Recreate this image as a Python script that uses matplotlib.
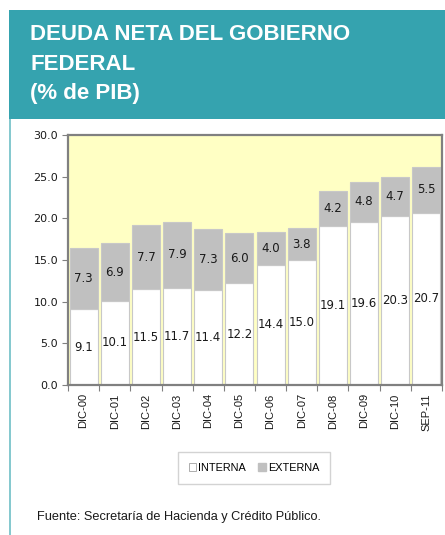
import matplotlib
matplotlib.use("Agg")
import matplotlib.pyplot as plt
import numpy as np
from matplotlib.patches import Rectangle, Patch
from matplotlib import font_manager

TEAL = "#35A3AF"
LINE_TEAL = "#86C9CF"
YELLOW = "#FFFFC4"
GRAY_BAR = "#C0C0C0"
SPINE = "#808080"
TEXT = "#1A1A1A"

names = {f.name for f in font_manager.fontManager.ttflist}
NARROW = "Liberation Sans Narrow" if "Liberation Sans Narrow" in names else "Liberation Sans"

periods = ["DIC-00", "DIC-01", "DIC-02", "DIC-03", "DIC-04", "DIC-05",
           "DIC-06", "DIC-07", "DIC-08", "DIC-09", "DIC-10", "SEP-11"]
interna = [9.1, 10.1, 11.5, 11.7, 11.4, 12.2, 14.4, 15.0, 19.1, 19.6, 20.3, 20.7]
externa = [7.3, 6.9, 7.7, 7.9, 7.3, 6.0, 4.0, 3.8, 4.2, 4.8, 4.7, 5.5]

W, H = 445, 535
fig = plt.figure(figsize=(W / 100, H / 100), dpi=100)

# header band and left rule
fig.patches.append(Rectangle((9 / W, 1 - 119 / H), 1 - 9 / W, 109 / H,
                             transform=fig.transFigure, facecolor=TEAL, edgecolor="none"))
fig.patches.append(Rectangle((9 / W, 0), 2 / W, 1 - 119 / H,
                             transform=fig.transFigure, facecolor=LINE_TEAL, edgecolor="none"))
for text, y in [("DEUDA NETA DEL GOBIERNO", 34), ("FEDERAL", 64), ("(% de PIB)", 94)]:
    fig.text(30 / W, 1 - y / H, text, color="white", fontsize=16, fontweight="bold",
             family=NARROW, va="center", ha="left")

ax = fig.add_axes([68 / W, 150 / H, 374 / W, 250 / H])
ax.set_facecolor(YELLOW)
x = np.arange(len(periods))
ax.bar(x, interna, width=0.9, color="white", edgecolor="#C8C8C8", linewidth=0.8, zorder=2)
ax.bar(x, externa, width=0.9, bottom=interna, color=GRAY_BAR, edgecolor="#C8C8C8",
       linewidth=0.8, zorder=2)

for xi, a, b in zip(x, interna, externa):
    ax.text(xi, a / 2, f"{a:.1f}", ha="center", va="center", fontsize=8.5, color=TEXT, zorder=3)
    ax.text(xi, a + b / 2, f"{b:.1f}", ha="center", va="center", fontsize=8.5,
            color=TEXT, zorder=3)

ax.set_xlim(-0.5, len(periods) - 0.5)
ax.set_ylim(0, 30)
ax.set_yticks(np.arange(0, 30.1, 5))
ax.set_yticklabels([f"{v:.1f}" for v in np.arange(0, 30.1, 5)], fontsize=8, color=TEXT)
ax.set_xticks(np.arange(-0.5, len(periods), 1))
ax.set_xticklabels([])
ax.set_xticks(x, minor=True)
ax.set_xticklabels(periods, minor=True, rotation=90, fontsize=8, family=NARROW, color=TEXT)
ax.tick_params(axis="x", which="minor", length=0, pad=6)
ax.tick_params(axis="x", which="major", length=4, color=SPINE, direction="out")
ax.tick_params(axis="y", length=4, color=SPINE, direction="out", pad=3)
for spine in ax.spines.values():
    spine.set_color(SPINE)
    spine.set_linewidth(1.6)

handles = [Patch(facecolor="white", edgecolor="#A0A0A0", linewidth=0.6, label="INTERNA"),
           Patch(facecolor=GRAY_BAR, edgecolor=GRAY_BAR, label="EXTERNA")]
leg = fig.legend(handles=handles, loc="center", bbox_to_anchor=(254 / W, 1 - 468 / H),
                 ncol=2, frameon=True, fancybox=False, handlelength=0.7,
                 handleheight=0.7, handletextpad=0.2, columnspacing=1.1, borderpad=1.0,
                 borderaxespad=0, prop={"family": NARROW, "size": 7.8})
leg.get_frame().set_edgecolor("#C8C8C8")
leg.get_frame().set_linewidth(1.0)

fig.text(37 / W, 1 - 517 / H, "Fuente: Secretaría de Hacienda y Crédito Público.",
         fontsize=9.2, family=NARROW, color=TEXT, va="center", ha="left")

fig.savefig("out.png", dpi=100)
